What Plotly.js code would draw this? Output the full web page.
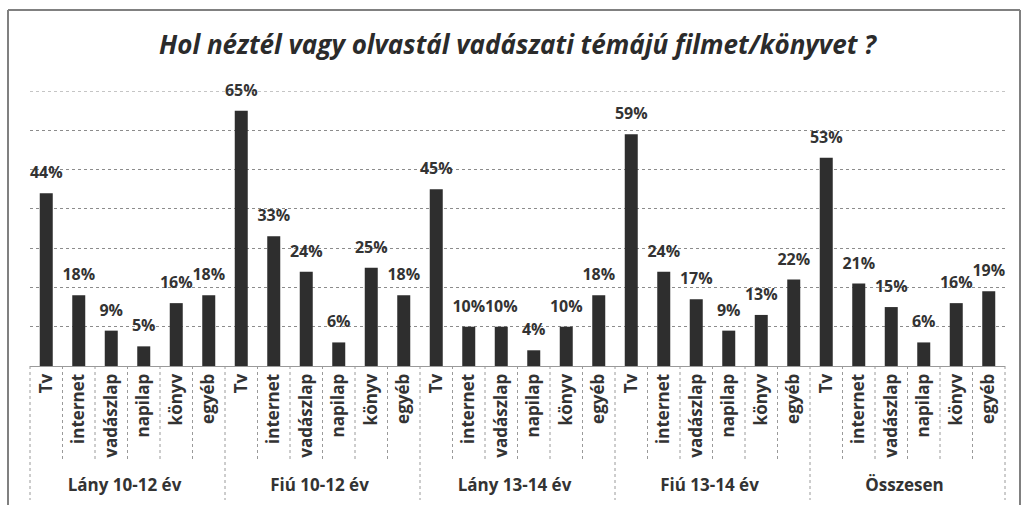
<!DOCTYPE html>
<html>
<head>
<meta charset="utf-8">
<script src="https://cdn.plot.ly/plotly-3.0.1.min.js"></script>
<style>html,body{margin:0;padding:0;background:#fff;}#chart{width:1022px;height:505px;}</style>
</head>
<body>
<div id="chart"></div>
<script>
const groups = ["Lány 10-12 év", "Fiú 10-12 év", "Lány 13-14 év", "Fiú 13-14 év", "Összesen"];
const sources = ["Tv", "internet", "vadászlap", "napilap", "könyv", "egyéb"];
const lany1012 = [44, 18, 9, 5, 16, 18];
const fiu1012 = [65, 33, 24, 6, 25, 18];
const lany1314 = [45, 10, 10, 4, 10, 18];
const fiu1314 = [59, 24, 17, 9, 13, 22];
const osszesen = [53, 21, 15, 6, 16, 19];
const seriesByGroup = [lany1012, fiu1012, lany1314, fiu1314, osszesen];

const xGroup = [], xSub = [], yVals = [];
groups.forEach((g, gi) => {
  sources.forEach((s, si) => {
    xGroup.push(g); xSub.push(s); yVals.push(seriesByGroup[gi][si]);
  });
});

const FONT = "Open Sans, DejaVu Sans, sans-serif";
const nCat = xSub.length;
const plotTop = 91, plotBottom = 366, plotH = plotBottom - plotTop;
const plotLeft = 30, plotRight = 1005, plotW = plotRight - plotLeft;
const py = px => (plotBottom - px) / plotH;
const pxX = px => (px - plotLeft) / plotW;

const shapes = [];
for (let i = 0; i <= nCat; i++) {
  const isGroup = (i % sources.length === 0);
  shapes.push({
    type: 'line', xref: 'paper', yref: 'paper',
    x0: i / nCat, x1: i / nCat, y0: 0, y1: isGroup ? py(500) : py(460),
    line: {color: '#9a9a9a', width: 1, dash: 'dot'}
  });
}
// top gridline (70%)
shapes.push({
  type: 'line', xref: 'paper', yref: 'y', x0: 0, x1: 1, y0: 70, y1: 70,
  line: {color: '#8c8c8c', width: 1, dash: 'dot'}
});
// outer chart frame
const fL = pxX(8), fR = pxX(1020), fT = py(10), fB = py(515);
const frameLine = {color: '#808080', width: 2};
shapes.push({type: 'line', xref: 'paper', yref: 'paper', x0: fL, x1: fR, y0: fT, y1: fT, line: frameLine});
shapes.push({type: 'line', xref: 'paper', yref: 'paper', x0: fL, x1: fL, y0: fT, y1: fB, line: frameLine});
shapes.push({type: 'line', xref: 'paper', yref: 'paper', x0: fR, x1: fR, y0: fT, y1: fB, line: frameLine});

const bars = {
  type: 'bar',
  x: [xGroup, xSub],
  y: yVals,
  marker: {color: '#2e2e2e', line: {width: 0}},
  hoverinfo: 'x+y'
};

const labels = {
  type: 'scatter',
  mode: 'markers+text',
  x: [xGroup, xSub],
  y: yVals,
  text: yVals.map(v => v + '%'),
  textposition: 'top center',
  marker: {size: 16, color: 'rgba(0,0,0,0)'},
  textfont: {family: FONT, size: 16, color: '#333333', weight: 'bold'},
  cliponaxis: false,
  hoverinfo: 'skip'
};

const layout = {
  width: 1022, height: 505,
  margin: {l: plotLeft, r: 1022 - plotRight, t: plotTop, b: 505 - plotBottom, pad: 0},
  paper_bgcolor: '#ffffff', plot_bgcolor: '#ffffff',
  showlegend: false,
  bargap: 0.6,
  title: {
    text: '<b><i>Hol néztél vagy olvastál vadászati témájú filmet/könyvet ?</i></b>',
    font: {family: FONT, size: 26, color: '#2b2b2b'},
    x: 0.5, xanchor: 'center', y: 1 - 45 / 505, yanchor: 'middle', xref: 'paper'
  },
  xaxis: {
    type: 'multicategory',
    range: [-0.5, nCat - 0.5],
    autorange: false,
    tickangle: -90,
    tickfont: {family: FONT, size: 17, color: '#333333', weight: 'bold'},
    showdividers: false,
    showline: true, linecolor: '#9a9a9a', linewidth: 1,
    ticks: '', showgrid: false, zeroline: false
  },
  yaxis: {
    range: [0, 70],
    dtick: 10,
    showticklabels: false,
    showgrid: true, gridcolor: '#8c8c8c', griddash: 'dot', gridwidth: 1,
    zeroline: false, showline: false, ticks: ''
  },
  shapes: shapes
};

Plotly.newPlot('chart', [bars, labels], layout, {displayModeBar: false, staticPlot: true});
</script>
</body>
</html>
